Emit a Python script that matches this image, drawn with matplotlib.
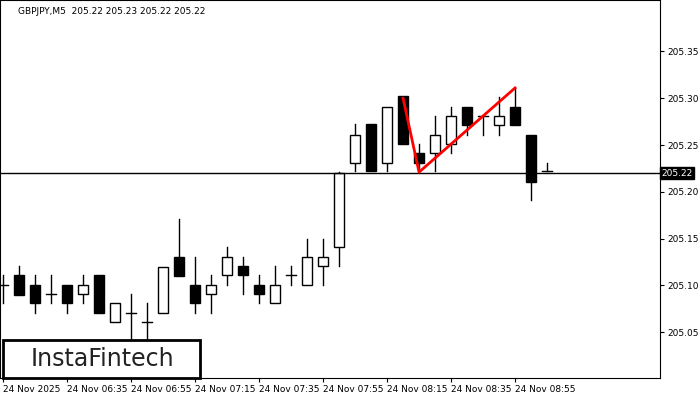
import matplotlib
matplotlib.use("Agg")
import matplotlib.pyplot as plt
from matplotlib.patches import Rectangle

# OHLC per 5-minute bar, starting 24 Nov 06:15
opens = [205.10, 205.111, 205.100, 205.091, 205.100, 205.091, 205.111, 205.061, 205.071, 205.061,
         205.071, 205.130, 205.100, 205.091, 205.111, 205.121, 205.100, 205.081, 205.111, 205.100,
         205.121, 205.141, 205.231, 205.272, 205.231, 205.302, 205.242, 205.241, 205.251, 205.291,
         205.281, 205.271, 205.291, 205.261, 205.222]
closes = [205.10, 205.090, 205.081, 205.091, 205.081, 205.100, 205.071, 205.081, 205.071, 205.061,
          205.120, 205.110, 205.081, 205.100, 205.130, 205.111, 205.091, 205.100, 205.111, 205.130,
          205.130, 205.220, 205.261, 205.222, 205.291, 205.251, 205.231, 205.261, 205.281, 205.271,
          205.281, 205.281, 205.271, 205.210, 205.222]
highs = [205.111, 205.121, 205.111, 205.111, 205.100, 205.111, 205.111, 205.081, 205.091, 205.081,
         205.120, 205.171, 205.130, 205.111, 205.141, 205.130, 205.111, 205.121, 205.121, 205.150,
         205.150, 205.221, 205.272, 205.272, 205.291, 205.302, 205.251, 205.281, 205.291, 205.291,
         205.281, 205.301, 205.311, 205.261, 205.231]
lows = [205.081, 205.090, 205.071, 205.081, 205.071, 205.081, 205.071, 205.061, 205.030, 205.040,
        205.071, 205.110, 205.071, 205.071, 205.100, 205.091, 205.081, 205.081, 205.100, 205.100,
        205.100, 205.121, 205.222, 205.222, 205.222, 205.251, 205.222, 205.222, 205.241, 205.261,
        205.261, 205.261, 205.271, 205.191, 205.222]

tick_idx = [0, 4, 8, 12, 16, 20, 24, 28, 32]
tick_labels = ["24 Nov 2025", "24 Nov 06:35", "24 Nov 06:55", "24 Nov 07:15", "24 Nov 07:35",
               "24 Nov 07:55", "24 Nov 08:15", "24 Nov 08:35", "24 Nov 08:55"]
y_ticks = [205.05, 205.10, 205.15, 205.20, 205.25, 205.30, 205.35]

pattern_x = [25, 26, 32]
pattern_y = [205.30, 205.221, 205.311]
last_price = 205.22

fig = plt.figure(figsize=(7, 4), dpi=100)
ax = fig.add_axes([0, 0.055, 660 / 700, 0.945])

w = 0.62
for i, (o, c, h, l) in enumerate(zip(opens, closes, highs, lows)):
    top, bot = max(o, c), min(o, c)
    ax.plot([i, i], [top, h], color="black", lw=1)
    ax.plot([i, i], [l, bot], color="black", lw=1)
    if abs(c - o) < 0.002:
        ax.plot([i - w / 2, i + w / 2], [c, c], color="black", lw=1)
    else:
        ax.add_patch(Rectangle((i - w / 2, bot), w, top - bot, lw=1, edgecolor="black",
                               facecolor="white" if c > o else "black", zorder=2))

ax.plot(pattern_x, pattern_y, color="red", lw=2, zorder=3)
ax.axhline(last_price, color="black", lw=1)

ax.set_xlim(-0.19, 41.06)
ax.set_ylim(205.001, 205.405)
ax.yaxis.tick_right()
ax.set_yticks(y_ticks)
ax.set_yticklabels([f"{v:.2f}" for v in y_ticks], fontsize=6.5)
ax.set_xticks(tick_idx)
ax.set_xticklabels(tick_labels, fontsize=6.5, ha="left")
ax.tick_params(length=3, width=0.8, pad=2)
for s in ax.spines.values():
    s.set_linewidth(0.8)

ax.text(last_price and 1.002, last_price, "205.22", transform=ax.get_yaxis_transform(),
        fontsize=6.5, color="white", va="center", ha="left",
        bbox=dict(boxstyle="square,pad=0.2", facecolor="black", edgecolor="black"))

fig.text(18 / 700, 1 - 12 / 400, "GBPJPY,M5  205.22 205.23 205.22 205.22", fontsize=6.5, va="center")

fig.patches.append(Rectangle((3 / 700, 22 / 400), 197 / 700, 38 / 400, transform=fig.transFigure,
                             facecolor="white", edgecolor="black", lw=2, zorder=5))
fig.text(102 / 700, 41 / 400, "InstaFintech", fontsize=17, ha="center", va="center",
         color="#222222", zorder=6)

fig.savefig("out.png", dpi=100)
